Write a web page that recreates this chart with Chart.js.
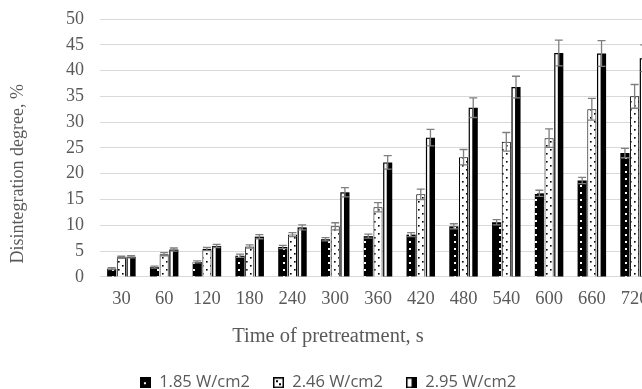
<!DOCTYPE html>
<html>
<head>
<meta charset="utf-8">
<script src="https://cdn.jsdelivr.net/npm/chart.js@4.4.1/dist/chart.umd.min.js"></script>
<style>
  html, body { margin: 0; padding: 0; background: #ffffff; overflow: hidden; }
  #wrap { position: relative; width: 672px; height: 401px; }
</style>
</head>
<body>
<div id="wrap"><canvas id="chart" width="672" height="401"></canvas></div>
<script>
// Pretreatment times (s)
const categories = ['30', '60', '120', '180', '240', '300', '360', '420', '480', '540', '600', '660', '720'];
const seriesNames = ['1.85 W/cm2', '2.46 W/cm2', '2.95 W/cm2'];

// Disintegration degree (%) per power density
const degree185 = [1.6, 1.9, 2.9, 4.1, 5.8, 7.3, 7.9, 8.2, 9.8, 10.6, 16.2, 18.7, 24.0];
const degree246 = [3.8, 4.4, 5.4, 5.9, 8.2, 9.8, 13.5, 16.0, 23.2, 26.2, 26.9, 32.5, 35.0];
const degree295 = [3.9, 5.3, 6.0, 7.8, 9.6, 16.4, 22.2, 27.0, 32.8, 36.8, 43.4, 43.3, 42.4];

// Standard deviations
const error185 = [0.2, 0.2, 0.2, 0.3, 0.3, 0.3, 0.4, 0.4, 0.5, 0.5, 0.6, 0.6, 0.9];
const error246 = [0.2, 0.3, 0.3, 0.3, 0.4, 0.7, 0.9, 1.0, 1.5, 1.8, 1.8, 2.1, 2.3];
const error295 = [0.2, 0.3, 0.3, 0.4, 0.5, 0.9, 1.3, 1.6, 1.9, 2.1, 2.5, 2.5, 2.6];

const yMin = 0, yMax = 50, yStep = 5;

const TEXT = '#595959';
const GRID = '#d9d9d9';
const SERIF = "'Liberation Serif', 'Times New Roman', serif";
const SANS = "'Open Sans', 'Liberation Sans', sans-serif";

// --- fill patterns -------------------------------------------------------
function tile(w, h, bg, fg, dots, size) {
  const c = document.createElement('canvas');
  c.width = w; c.height = h;
  const g = c.getContext('2d');
  g.fillStyle = bg; g.fillRect(0, 0, w, h);
  g.fillStyle = fg;
  dots.forEach(([x, y]) => g.fillRect(x, y, size, size));
  return c;
}
const ctx = document.getElementById('chart').getContext('2d');
const darkDots = ctx.createPattern(tile(9, 7, '#000000', '#ffffff', [[4, 3]], 2), 'repeat');
const lightDots = ctx.createPattern(tile(8, 8, '#ffffff', '#000000', [[2, 1], [6, 5]], 1.6), 'repeat');

// --- legend icons --------------------------------------------------------
function icon(draw) {
  const c = document.createElement('canvas');
  c.width = 11; c.height = 11;
  draw(c.getContext('2d'));
  return c;
}
const icon185 = icon(g => {
  g.fillStyle = '#000'; g.fillRect(0, 0, 11, 11);
  g.fillStyle = '#fff'; g.fillRect(4, 5, 2, 2);
});
const icon246 = icon(g => {
  g.fillStyle = '#000'; g.fillRect(0, 0, 11, 11);
  g.fillStyle = '#fff'; g.fillRect(1.5, 1.5, 8, 8);
  g.fillStyle = '#000'; g.fillRect(3, 3, 2, 2); g.fillRect(6, 6, 2, 2);
});
const icon295 = icon(g => {
  g.fillStyle = '#000'; g.fillRect(0, 0, 11, 11);
  g.fillStyle = '#fff'; g.fillRect(1.5, 1.5, 4, 8);
});
const icons = [icon185, icon246, icon295];

// --- plugins -------------------------------------------------------------
// white strip along the left side of the 2.95 W/cm2 bars
const stripPlugin = {
  id: 'strip',
  afterDatasetDraw(chart, args) {
    if (args.index !== 2) return;
    const g = chart.ctx;
    g.save();
    g.fillStyle = '#ffffff';
    args.meta.data.forEach(bar => {
      const left = bar.x - bar.width / 2;
      const h = bar.base - bar.y;
      if (h > 3) g.fillRect(left + 1.2, bar.y + 1.2, 2.4, h - 1.2);
    });
    g.restore();
  }
};

// symmetric error bars with caps
const errorPlugin = {
  id: 'errorBars',
  afterDatasetsDraw(chart) {
    const g = chart.ctx;
    const y = chart.scales.y;
    const errs = [error185, error246, error295];
    g.save();
    g.strokeStyle = '#7f7f7f';
    g.lineWidth = 1.3;
    chart.data.datasets.forEach((ds, i) => {
      const meta = chart.getDatasetMeta(i);
      meta.data.forEach((bar, j) => {
        const v = ds.data[j], e = errs[i][j];
        const yt = y.getPixelForValue(v + e), yb = y.getPixelForValue(v - e);
        const cx = bar.x, hw = 4;
        g.beginPath();
        g.moveTo(cx, yt); g.lineTo(cx, yb);
        g.moveTo(cx - hw, yt); g.lineTo(cx + hw, yt);
        g.moveTo(cx - hw, yb); g.lineTo(cx + hw, yb);
        g.stroke();
      });
    });
    g.restore();
  }
};

new Chart(ctx, {
  type: 'bar',
  data: {
    labels: categories,
    datasets: [
      { label: seriesNames[0], data: degree185, backgroundColor: darkDots, borderColor: '#000', borderWidth: 0 },
      { label: seriesNames[1], data: degree246, backgroundColor: lightDots, borderColor: '#000', borderWidth: 1 },
      { label: seriesNames[2], data: degree295, backgroundColor: '#000000', borderColor: '#000', borderWidth: 0 }
    ]
  },
  options: {
    responsive: false,
    animation: false,
    devicePixelRatio: 1,
    datasets: { bar: { categoryPercentage: 0.68, barPercentage: 0.94 } },
    layout: { padding: { top: 19, right: 16, left: 0, bottom: 0 } },
    scales: {
      x: {
        grid: { display: false, drawTicks: false },
        border: { color: GRID, width: 1 },
        ticks: { color: TEXT, font: { family: SERIF, size: 18.5 }, padding: 11, maxRotation: 0, autoSkip: false },
        afterFit(scale) { scale.height = 47; }
      },
      y: {
        min: yMin, max: yMax,
        grid: { color: GRID, lineWidth: 1, drawTicks: false },
        border: { display: false },
        ticks: { stepSize: yStep, color: TEXT, font: { family: SERIF, size: 18 }, padding: 16 },
        title: {
          display: true,
          text: '   Disintegration degree, %',
          align: 'start',
          color: TEXT,
          font: { family: SERIF, size: 18 },
          padding: { top: 7, bottom: 0 }
        },
        afterFit(scale) {
          scale.width = 100;
          scale.paddingTop = 0;
          scale.paddingBottom = 0;
        }
      }
    },
    plugins: {
      title: {
        display: true,
        text: 'Time of pretreatment, s',
        position: 'bottom',
        weight: 500,
        color: TEXT,
        font: { family: SERIF, size: 20.5, weight: 'normal' },
        padding: { top: 0, bottom: 3 }
      },
      legend: {
        position: 'bottom',
        weight: 1000,
        labels: {
          color: TEXT,
          font: { family: SANS, size: 16.5 },
          usePointStyle: true,
          boxWidth: 11,
          boxHeight: 11,
          padding: 23,
          generateLabels(chart) {
            return chart.data.datasets.map((ds, i) => ({
              text: ds.label,
              pointStyle: icons[i],
              fillStyle: '#000',
              strokeStyle: '#000',
              lineWidth: 0,
              fontColor: TEXT,
              datasetIndex: i,
              hidden: false
            }));
          }
        }
      },
      tooltip: { enabled: false }
    }
  },
  plugins: [stripPlugin, errorPlugin]
});
</script>
</body>
</html>
